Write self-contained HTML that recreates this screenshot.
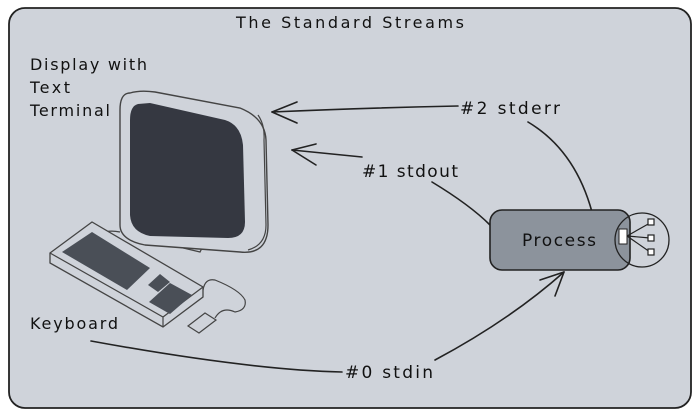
<!DOCTYPE html>
<html><head><style>
html,body{margin:0;padding:0;background:#fff;}
svg{display:block}
text{font-family:"DejaVu Sans","Liberation Sans",sans-serif;fill:#111;}
</style></head><body>
<svg width="700" height="420" viewBox="0 0 700 420" xmlns="http://www.w3.org/2000/svg">
<rect x="9" y="8" width="682" height="400" rx="16" fill="#cfd3da" stroke="#222" stroke-width="1.8"/>
<text x="236" y="28" font-size="16" textLength="228" lengthAdjust="spacing">The Standard Streams</text>
<text x="30" y="70" font-size="16" textLength="117" lengthAdjust="spacing">Display with</text>
<text x="30" y="93" font-size="16" textLength="40" lengthAdjust="spacing">Text</text>
<text x="30" y="116" font-size="16" textLength="80" lengthAdjust="spacing">Terminal</text>
<text x="30" y="329" font-size="16" textLength="88" lengthAdjust="spacing">Keyboard</text>

<!-- monitor -->
<path d="M148,228 L150,240 L200,252 L205,242 Z" fill="none" stroke="#444" stroke-width="1.3"/>
<path d="M130,93 Q120,93 120,110 L120,225 Q120,240 145,245 L240,252 Q268,255 268,225 L266,140 Q265,118 240,108 L155,92 Q140,90 130,93 Z" fill="#cfd3da" stroke="#444" stroke-width="1.4"/>
<path d="M258,115 Q265,125 264,140 L266,225 Q266,245 248,250" fill="none" stroke="#444" stroke-width="1.2"/>
<path d="M138,104 Q130,106 130,120 L130,215 Q131,232 150,236 L228,238 Q245,238 245,222 L243,145 Q241,125 225,120 L150,103 Z" fill="#353841"/>
<path d="M120,232 Q100,228 95,242 L102,250" fill="none" stroke="#444" stroke-width="1.2"/>
<!-- keyboard -->
<path d="M50,253 L92,222 L203,287 L203,297 L163,327 L50,263 Z" fill="#cfd3da" stroke="#444" stroke-width="1.3"/>
<path d="M50,253 L163,317 L203,287 M163,317 L163,327" fill="none" stroke="#444" stroke-width="1.2"/>
<path d="M62,252 L92,232 L150,268 L127,290 Z" fill="#4a4f57"/>
<path d="M148,285 L160,274 L170,282 L158,292 Z" fill="#4a4f57"/>
<path d="M149,302 L170,283 L192,295 L170,314 Z" fill="#4a4f57"/>
<path d="M203,290 Q205,278 215,280 Q240,290 245,300 Q247,310 235,312 Q222,306 215,318" fill="none" stroke="#444" stroke-width="1.2"/>
<path d="M188,326 L205,313 L216,320 L199,333 Z" fill="none" stroke="#444" stroke-width="1.2"/>

<!-- arrows -->
<g fill="none" stroke="#222" stroke-width="1.6" stroke-linecap="round">
<path d="M272,112 Q360,108 458,106"/>
<path d="M272,112 L297,102 M272,112 L297,123"/>
<path d="M528,122 Q575,150 592,212"/>
<path d="M292,150 L362,157"/>
<path d="M292,150 L316,144 M292,150 L316,165"/>
<path d="M432,182 Q470,205 490,225"/>
<path d="M91,341 Q250,370 342,372"/>
<path d="M435,360 Q510,320 564,272"/>
<path d="M564,272 L540,280 M564,272 L555,296"/>
</g>
<text x="460" y="114" font-size="17" textLength="100" lengthAdjust="spacing">#2 stderr</text>
<text x="362" y="177" font-size="17" textLength="96" lengthAdjust="spacing">#1 stdout</text>
<text x="345" y="378" font-size="17" textLength="88" lengthAdjust="spacing">#0 stdin</text>

<!-- process -->
<rect x="490" y="210" width="140" height="60" rx="12" fill="#8c939c" stroke="#222" stroke-width="1.6"/>
<text x="522" y="246" font-size="17" textLength="74" lengthAdjust="spacing">Process</text>
<circle cx="642" cy="240" r="27" fill="none" stroke="#222" stroke-width="1.3"/>
<rect x="619" y="229" width="8" height="15" fill="#fff" stroke="#222"/>
<g stroke="#222" stroke-width="1.2" fill="#fff">
<line x1="627" y1="236" x2="650" y2="223"/>
<line x1="627" y1="236" x2="650" y2="238"/>
<line x1="627" y1="236" x2="650" y2="252"/>
<rect x="648" y="219" width="6" height="6"/>
<rect x="648" y="235" width="6" height="6"/>
<rect x="648" y="249" width="6" height="6"/>
</g>
</svg>
</body></html>
